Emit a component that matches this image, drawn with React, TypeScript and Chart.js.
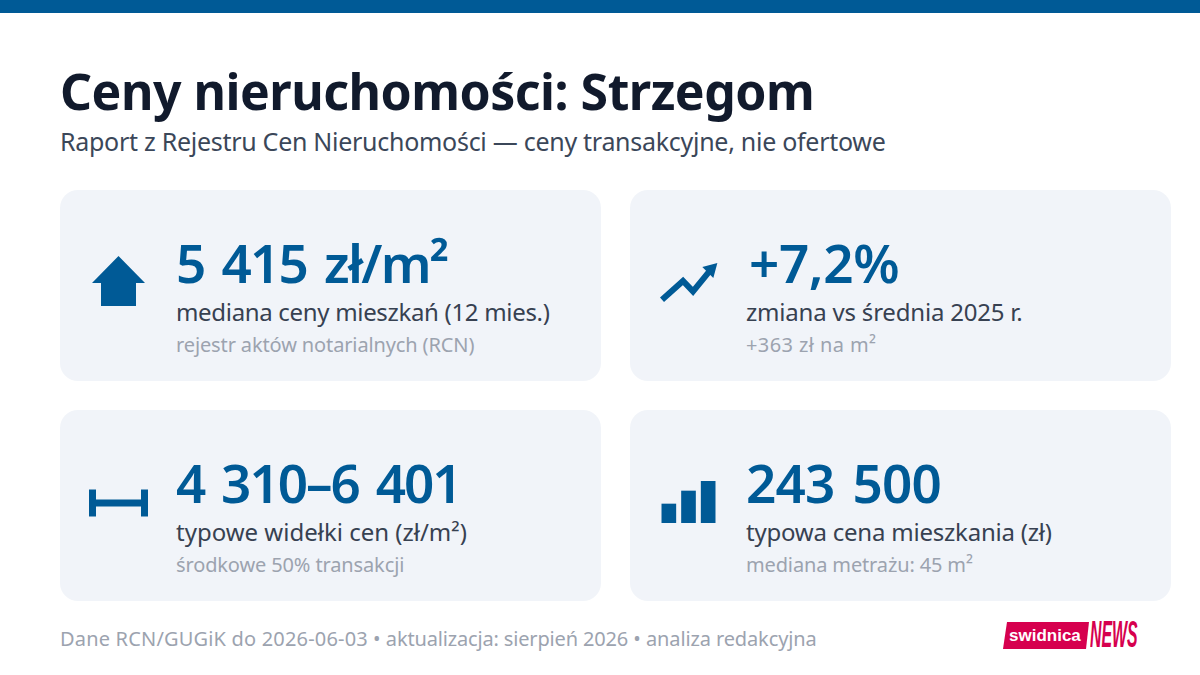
import React, { useEffect, useRef } from "react";
import { Chart, registerables } from "chart.js";

Chart.register(...registerables);

const FONT = '"Noto Sans", "Open Sans", sans-serif';
const BLUE = "#005a96";

const kpiValues = ["5 415 zł/m²", "+7,2%", "4 310–6 401", "243 500"];
const kpiLabels = [
  "mediana ceny mieszkań (12 mies.)",
  "zmiana vs średnia 2025 r.",
  "typowe widełki cen (zł/m²)",
  "typowa cena mieszkania (zł)",
];
const kpiNotes = [
  "rejestr aktów notarialnych (RCN)",
  "+363 zł na m²",
  "środkowe 50% transakcji",
  "mediana metrażu: 45 m²",
];
const footerParts = [
  "Dane RCN/GUGiK do 2026-06-03",
  "aktualizacja: sierpień 2026",
  "analiza redakcyjna",
];

// small glyph charts
const barLabels = ["a", "b", "c"];
const barValues = [19, 32, 42];
const trendX = [0, 21, 31, 49];
const trendY = [0, 18, 8, 29];
const rangeEnds = [4310, 6401];

// letter spacing per text, the installed font runs a little wider than the original
const valueSpacing = [-1.8, -0.4, -2.0, -0.8];
const labelSpacing = [-0.32, -0.2, 0, -0.22];
const noteSpacing = [-0.125, 0.4, -0.13, -0.14];
const footerSpacing = [0.18, -0.16, -0.12];

function useChart(build: () => any) {
  const ref = useRef<HTMLCanvasElement>(null);
  useEffect(() => {
    const ctx = ref.current?.getContext("2d");
    if (!ctx) return;
    const chart = new Chart(ctx, build());
    return () => chart.destroy();
  }, []);
  return ref;
}

const bareOptions = (scales: any) => ({
  animation: false,
  responsive: false,
  maintainAspectRatio: false,
  events: [],
  layout: { padding: 0, autoPadding: false },
  plugins: { legend: { display: false }, tooltip: { enabled: false } },
  scales,
});

const hidden = { display: false };

function Glyph({ left, top, width, height, build }: any) {
  const ref = useChart(build);
  return (
    <canvas
      ref={ref}
      width={width}
      height={height}
      style={{ position: "absolute", left, top, width, height }}
    />
  );
}

const barsConfig = () => ({
  type: "bar",
  data: {
    labels: barLabels,
    datasets: [
      {
        data: barValues,
        backgroundColor: BLUE,
        barThickness: 14,
      },
    ],
  },
  options: bareOptions({
    x: { ...hidden },
    y: { ...hidden, min: 0, max: 42 },
  }),
});

const trendConfig = () => ({
  type: "scatter",
  data: {
    datasets: [
      {
        data: trendX.map((x, i) => ({ x, y: trendY[i] })),
        showLine: true,
        clip: false,
        borderColor: BLUE,
        borderWidth: 6,
        tension: 0,
        pointBackgroundColor: BLUE,
        pointBorderColor: BLUE,
        pointBorderWidth: 0,
        pointStyle: ["circle", "circle", "circle", "triangle"],
        pointRadius: [0, 0, 0, 9],
        pointRotation: 45,
      },
    ],
  },
  options: bareOptions({
    x: { ...hidden, type: "linear", min: -2, max: 58 },
    y: { ...hidden, min: -4, max: 38 },
  }),
});

const rangeConfig = () => ({
  type: "scatter",
  data: {
    datasets: [
      {
        data: rangeEnds.map((v) => ({ x: v, y: 0 })),
        showLine: true,
        clip: false,
        borderColor: BLUE,
        borderWidth: 7,
        pointStyle: "line",
        pointRadius: 13.5,
        pointRotation: 90,
        pointBorderColor: BLUE,
        pointBorderWidth: 7,
      },
    ],
  },
  options: bareOptions({
    x: { ...hidden, type: "linear", min: 4310 - 12.5 * 40.2, max: 6401 + 12.5 * 40.2 },
    y: { ...hidden, min: -1, max: 1 },
  }),
});

function House({ left, top }: { left: number; top: number }) {
  return (
    <svg
      width={53}
      height={50}
      viewBox="0 0 53 50"
      style={{ position: "absolute", left, top }}
    >
      <path d="M26.5 0 L53 27 L44 27 L44 50 L9 50 L9 27 L0 27 Z" fill={BLUE} />
    </svg>
  );
}

const cardPos = [
  { x: 60, y: 190 },
  { x: 630, y: 190 },
  { x: 60, y: 410 },
  { x: 630, y: 410 },
];

function Card({ index }: { index: number }) {
  const { x, y } = cardPos[index];
  const textLeft = x + 116;
  return (
    <>
      <div
        style={{
          position: "absolute",
          left: x,
          top: y,
          width: 541,
          height: 191,
          borderRadius: 18,
          background: "#f1f4f9",
        }}
      />
      <div
        style={{
          position: "absolute",
          left: index === 1 ? textLeft + 3 : textLeft,
          top: y + 45,
          fontSize: 53,
          lineHeight: "56px",
          fontWeight: 600,
          letterSpacing: valueSpacing[index],
          wordSpacing: 5,
          color: BLUE,
          whiteSpace: "pre",
        }}
      >
        {kpiValues[index]}
      </div>
      <div
        style={{
          position: "absolute",
          left: textLeft,
          top: y + 107,
          fontSize: 24,
          lineHeight: "30px",
          letterSpacing: labelSpacing[index],
          color: "#374151",
          whiteSpace: "pre",
        }}
      >
        {kpiLabels[index]}
      </div>
      <div
        style={{
          position: "absolute",
          left: textLeft,
          top: y + 142,
          fontSize: 20,
          lineHeight: "26px",
          letterSpacing: noteSpacing[index],
          color: "#9ca3af",
          whiteSpace: "pre",
        }}
      >
        {kpiNotes[index]}
      </div>
    </>
  );
}

export default function App() {
  useEffect(() => {
    document.body.style.margin = "0";
  }, []);

  return (
    <div
      style={{
        position: "relative",
        width: 1200,
        height: 675,
        overflow: "hidden",
        background: "#fff",
        fontFamily: FONT,
      }}
    >
      <div style={{ position: "absolute", left: 0, top: 0, width: 1200, height: 13, background: BLUE }} />
      <div
        style={{
          position: "absolute",
          left: 60,
          top: 56,
          fontSize: 50,
          lineHeight: "70px",
          fontWeight: 700,
          letterSpacing: -0.5,
          color: "#111a2c",
          whiteSpace: "pre",
        }}
      >
        Ceny nieruchomości: Strzegom
      </div>
      <div
        style={{
          position: "absolute",
          left: 60,
          top: 124,
          fontSize: 25,
          lineHeight: "35px",
          letterSpacing: -0.28,
          color: "#3b4759",
          whiteSpace: "pre",
        }}
      >
        Raport z Rejestru Cen Nieruchomości — ceny transakcyjne, nie ofertowe
      </div>

      {cardPos.map((_, i) => (
        <Card key={i} index={i} />
      ))}

      <House left={92} top={256} />
      <Glyph left={660} top={260} width={60} height={44} build={trendConfig} />
      <Glyph left={80} top={483} width={77} height={40} build={rangeConfig} />
      <Glyph left={659} top={481} width={59} height={42} build={barsConfig} />

      <div
        style={{
          position: "absolute",
          left: 60,
          top: 625,
          fontSize: 20,
          lineHeight: "28px",
          color: "#9ca3af",
          whiteSpace: "pre",
        }}
      >
        {footerParts.map((part, i) => (
          <span key={i}>
            {i > 0 ? " • " : ""}
            <span style={{ letterSpacing: footerSpacing[i] }}>{part}</span>
          </span>
        ))}
      </div>

      <svg width={90} height={27} style={{ position: "absolute", left: 1003, top: 622 }}>
        <path d="M4 0 L86 0 L83 27 L0 27 Z" fill="#d6004e" />
      </svg>
      <div
        style={{
          position: "absolute",
          left: 1009,
          top: 625,
          fontFamily: '"Liberation Sans", sans-serif',
          fontSize: 17,
          lineHeight: "22px",
          fontWeight: 700,
          color: "#fff",
          whiteSpace: "pre",
        }}
      >
        swidnica
      </div>
      <div
        style={{
          position: "absolute",
          left: 1090,
          top: 617,
          fontFamily: '"Liberation Sans", sans-serif',
          fontSize: 36,
          lineHeight: "36px",
          fontStyle: "italic",
          fontWeight: 700,
          color: "#d6004e",
          whiteSpace: "pre",
          transformOrigin: "left top",
          transform: "scaleX(0.44)",
        }}
      >
        NEWS
      </div>
    </div>
  );
}
